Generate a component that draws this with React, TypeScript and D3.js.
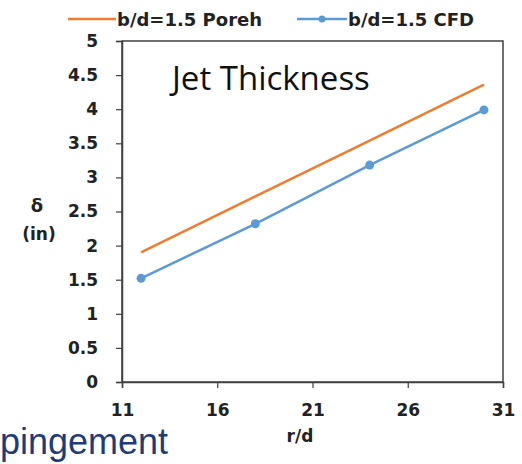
import { useEffect, useRef } from "react";
import * as d3 from "d3";

// values
const xPoints = [12, 18, 24, 30];
const porehValues = [1.9, 2.72, 3.54, 4.36];
const cfdValues = [1.52, 2.32, 3.18, 3.99];
const xTicks = [11, 16, 21, 26, 31];
const yTicks = [0, 0.5, 1, 1.5, 2, 2.5, 3, 3.5, 4, 4.5, 5];
const seriesNames = ["b/d=1.5 Poreh", "b/d=1.5 CFD"];

const ORANGE = "#ED7D31";
const BLUE = "#5B9BD5";
const AXIS = "#404040";
const BOLD = "'DejaVu Sans', sans-serif";

const App = () => {
    const svgRef = useRef<SVGSVGElement>(null);

    useEffect(() => {
        const svg = d3.select(svgRef.current);
        svg.selectAll("*").remove();

        const plot = { left: 122, right: 503, top: 41, bottom: 382 };

        const x = d3.scaleLinear().domain([11, 31]).range([plot.left, plot.right]);
        const y = d3.scaleLinear().domain([0, 5]).range([plot.bottom, plot.top]);

        svg.append("rect").attr("width", 522).attr("height", 464).attr("fill", "#fff");

        // frame
        svg.append("rect")
            .attr("x", plot.left)
            .attr("y", plot.top)
            .attr("width", plot.right - plot.left)
            .attr("height", plot.bottom - plot.top)
            .attr("fill", "none")
            .attr("stroke", AXIS)
            .attr("stroke-width", 1.5);

        // y axis
        const yAxis = svg.append("g")
            .attr("transform", `translate(${plot.left},0)`)
            .call(d3.axisLeft(y).tickValues(yTicks).tickSize(6).tickPadding(18).tickFormat((d) => String(d)));
        yAxis.select(".domain").attr("stroke", AXIS).attr("stroke-width", 1.5);
        yAxis.selectAll(".tick line").attr("stroke", AXIS).attr("stroke-width", 1.2);
        yAxis.selectAll("text")
            .attr("font-family", BOLD)
            .attr("font-weight", "bold")
            .attr("font-size", 17)
            .attr("fill", "#222");

        // x axis
        const xAxis = svg.append("g")
            .attr("transform", `translate(0,${plot.bottom})`)
            .call(d3.axisBottom(x).tickValues(xTicks).tickSize(6).tickPadding(16).tickFormat((d) => String(d)));
        xAxis.select(".domain").attr("stroke", AXIS).attr("stroke-width", 1.5);
        xAxis.selectAll(".tick line").attr("stroke", AXIS).attr("stroke-width", 1.2);
        xAxis.selectAll("text")
            .attr("font-family", BOLD)
            .attr("font-weight", "bold")
            .attr("font-size", 17)
            .attr("fill", "#222");

        // axis titles
        svg.append("text")
            .attr("x", 300)
            .attr("y", 442)
            .attr("text-anchor", "middle")
            .attr("font-family", BOLD)
            .attr("font-weight", "bold")
            .attr("font-size", 17)
            .attr("fill", "#222")
            .text("r/d");
        svg.append("text")
            .attr("x", 37)
            .attr("y", 212)
            .attr("text-anchor", "middle")
            .attr("font-family", BOLD)
            .attr("font-weight", "bold")
            .attr("font-size", 18)
            .attr("fill", "#222")
            .text("δ");
        svg.append("text")
            .attr("x", 39)
            .attr("y", 240)
            .attr("text-anchor", "middle")
            .attr("font-family", BOLD)
            .attr("font-weight", "bold")
            .attr("font-size", 17)
            .attr("fill", "#222")
            .text("(in)");

        const line = d3.line<number>()
            .x((_, i) => x(xPoints[i]))
            .y((d) => y(d));

        svg.append("path")
            .datum(porehValues)
            .attr("fill", "none")
            .attr("stroke", ORANGE)
            .attr("stroke-width", 2.5)
            .attr("d", line);

        svg.append("path")
            .datum(cfdValues)
            .attr("fill", "none")
            .attr("stroke", BLUE)
            .attr("stroke-width", 2.5)
            .attr("d", line);

        svg.append("g")
            .selectAll("circle")
            .data(cfdValues)
            .join("circle")
            .attr("cx", (_, i) => x(xPoints[i]))
            .attr("cy", (d) => y(d))
            .attr("r", 4.5)
            .attr("fill", BLUE);

        // chart title inside the plot
        svg.append("text")
            .attr("x", 172)
            .attr("y", 90)
            .attr("font-family", "'Open Sans', sans-serif")
            .attr("font-size", 33)
            .attr("fill", "#111")
            .text("Jet Thickness");

        // legend
        const legend = svg.append("g").attr("font-family", BOLD).attr("font-weight", "bold").attr("font-size", 18).attr("fill", "#222");
        legend.append("line").attr("x1", 68).attr("x2", 116).attr("y1", 19).attr("y2", 19).attr("stroke", ORANGE).attr("stroke-width", 2.5);
        legend.append("text").attr("x", 117).attr("y", 26).text(seriesNames[0]);
        legend.append("line").attr("x1", 297).attr("x2", 347).attr("y1", 19).attr("y2", 19).attr("stroke", BLUE).attr("stroke-width", 2.5);
        legend.append("circle").attr("cx", 322).attr("cy", 19).attr("r", 3.5).attr("fill", BLUE);
        legend.append("text").attr("x", 348).attr("y", 26).text(seriesNames[1]);

        // cropped slide caption
        svg.append("text")
            .attr("x", 0)
            .attr("y", 454)
            .attr("font-family", "'Liberation Sans', Arial, sans-serif")
            .attr("font-size", 36)
            .attr("fill", "#1F3C78")
            .text("pingement");
    }, []);

    return (
        <svg
            ref={svgRef}
            width={522}
            height={464}
            style={{ position: "absolute", left: 0, top: 0 }}
        ></svg>
    );
};

export default App;
